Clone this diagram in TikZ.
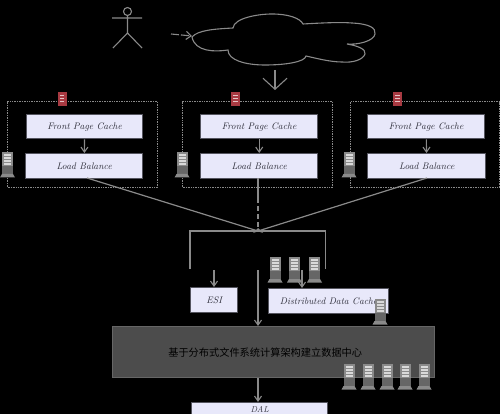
\documentclass[tikz,border=0pt]{standalone}
\usepackage{fontspec}
\newfontfamily\cjkfont{Noto Sans CJK SC}
\usetikzlibrary{arrows.meta}
\definecolor{linegray}{HTML}{8A8A8A}
\definecolor{boxfill}{HTML}{E8E8FA}
\definecolor{boxedge}{HTML}{55555F}
\definecolor{inktext}{HTML}{2E2E3A}
\definecolor{bandfill}{HTML}{4C4C4C}
\definecolor{redicon}{HTML}{A83A42}
\tikzset{
  x=1pt,y=-1pt,
  lightbox/.style={draw=boxedge,line width=1.4pt,fill=boxfill,text=inktext,inner sep=0pt,
    font=\fontsize{9.5}{10}\selectfont\itshape},
  zone/.style={draw=linegray,line width=1.2pt,dash pattern=on 1pt off .7pt,inner sep=0pt},
  flow/.style={draw=linegray,line width=1.1pt,-{Straight Barb[length=5pt,width=7pt]}},
  link/.style={draw=linegray,line width=1.1pt},
}
% server icon: centre x, top y
\newcommand{\srv}[2]{%
  \begin{scope}[shift={(#1,#2)}]
    \fill[fill=linegray] (-5.5,0) rectangle (5.5,16);
    \foreach \q in {2,5,8,11} \fill[white!85!black] (-3.5,\q) rectangle (3.5,\q+1.6);
    \fill[fill=white!40!black] (-5.5,14) rectangle (5.5,22);
    \fill[fill=linegray] (-5.5,22) -- (5.5,22) -- (7.5,25.5) -- (-7.5,25.5) -- cycle;
  \end{scope}}
% red tag: centre x, top y
\newcommand{\tagicon}[2]{%
  \begin{scope}[shift={(#1,#2)}]
    \fill[redicon] (-4.5,0) rectangle (4.5,14.5);
    \foreach \q in {3,6,9} \fill[white!70!redicon] (-2.2,\q) rectangle (2.2,\q+1);
  \end{scope}}
\begin{document}
\begin{tikzpicture}
\clip (0,0) rectangle (500,414);
\fill[black] (0,0) rectangle (500,414);

% actor
\draw[link] (127.5,11.5) circle (4);
\draw[link] (127.5,15.5) -- (127.5,33) (112,18) -- (142,18) (113,48) -- (127.5,33) -- (142,48);

% cloud
\draw[link] (192,37)
  .. controls (198,30) and (215,29) .. (233,28)
  .. controls (234,18) and (258,14) .. (272,14)
  .. controls (288,14) and (300,18) .. (303,24)
  .. controls (320,23) and (340,22) .. (352,23)
  .. controls (370,24) and (376,28) .. (375,34)
  .. controls (374,41) and (358,45) .. (347,44)
  .. controls (358,46) and (366,49) .. (365,54)
  .. controls (363,60) and (352,63) .. (342,62)
  .. controls (330,62) and (315,58) .. (306,56)
  .. controls (305,62) and (285,65) .. (265,65)
  .. controls (245,65) and (228,60) .. (228,50)
  .. controls (215,52) and (195,52) .. (192,37) -- cycle;
\coordinate (cloudin) at (192,36);
\coordinate (webstart) at (171,34);
\draw[link,dash pattern=on 8pt off 2pt,-{Straight Barb[length=5pt,width=8pt]}] (webstart) -- (cloudin);
\coordinate (cloudout) at (275,70);
\coordinate (zonetip) at (275,90);
\draw[link,-{Straight Barb[length=11pt,width=24pt]}] (cloudout) -- (zonetip);

% zones
\node[zone,minimum width=150,minimum height=86,anchor=north west] (zone1) at (7,101) {};
\node[zone,minimum width=150,minimum height=86,anchor=north west] (zone2) at (182,101) {};
\node[zone,minimum width=149,minimum height=86,anchor=north west] (zone3) at (350,101) {};

% boxes in zones
\node[lightbox,minimum width=116,minimum height=24,anchor=north west] (fpc1) at (26,114) {Front Page Cache};
\node[lightbox,minimum width=117,minimum height=25,anchor=north west] (lb1) at (25,153) {Load Balance};
\node[lightbox,minimum width=117,minimum height=24,anchor=north west] (fpc2) at (200,114) {Front Page Cache};
\node[lightbox,minimum width=117,minimum height=25,anchor=north west] (lb2) at (200,153) {Load Balance};
\node[lightbox,minimum width=117,minimum height=24,anchor=north west] (fpc3) at (367,114) {Front Page Cache};
\node[lightbox,minimum width=118,minimum height=25,anchor=north west] (lb3) at (367,153) {Load Balance};
\draw[flow] (fpc1) -- (lb1);
\draw[flow] (fpc2) -- (lb2);
\draw[flow] (fpc3) -- (lb3);

\tagicon{62}{92}
\tagicon{235.5}{92}
\tagicon{397.5}{92}
\srv{7.5}{152}
\srv{182}{152}
\srv{349}{152}

% hub
\coordinate (hub) at (258,231);
\coordinate (lb1out) at (87,178);
\coordinate (lb2out) at (258,178);
\coordinate (lb3out) at (427,178);
\draw[link,line width=1.2pt] (lb1out) -- (hub);
\draw[link,line width=1.2pt] (lb3out) -- (hub);
\draw[link,line width=1.2pt] (lb2out) -- (258,198);
\draw[link,dash pattern=on 5pt off 3pt] (258,198) -- (hub);
\fill[linegray] (hub) ++(-5,2) -- ++(5,-5) -- ++(5,5) -- ++(-3,-1) -- ++(-2,-1) -- ++(-2,1) -- cycle;

% bracket
\coordinate (bracketl) at (190,269);
\coordinate (bracketr) at (325.5,269);
\draw[link,line width=1.2pt] (bracketl) |- (hub) -| (bracketr);

% lower boxes
\node[lightbox,minimum width=47,minimum height=25,anchor=north west] (esi) at (190,287) {ESI};
\node[lightbox,minimum width=120,minimum height=25,anchor=north west] (ddc) at (268,288) {Distributed Data Cache};
\node[draw=white!40!black,line width=1.4pt,fill=bandfill,text=black,inner sep=0pt,
  minimum width=322,minimum height=51,anchor=north west,font=\fontsize{10.2}{11}\cjkfont] (band) at (112,326)
  {\hspace{-17pt}基于分布式文件系统计算架构建立数据中心};
\node[lightbox,minimum width=136,minimum height=13,anchor=north west,font=\fontsize{8.5}{9}\selectfont\itshape] (dal) at (191,402) {DAL};

\coordinate (esiin) at (214,270);
\draw[flow] (esiin) -- (esi.north -| esiin);
\coordinate (midin) at (258,270);
\draw[flow] (midin) -- (band.north -| midin);
\coordinate (ddcin) at (302,270);
\draw[flow] (ddcin) -- (ddc.north -| ddcin);
\draw[flow] (band.south -| midin) -- (dal.north -| midin);

\srv{275}{257}
\srv{294.5}{257}
\srv{314.5}{257}
\srv{380}{299}
\srv{349}{364}
\srv{368}{364}
\srv{387}{364}
\srv{405}{364}
\srv{424}{364}
\end{tikzpicture}
\end{document}
